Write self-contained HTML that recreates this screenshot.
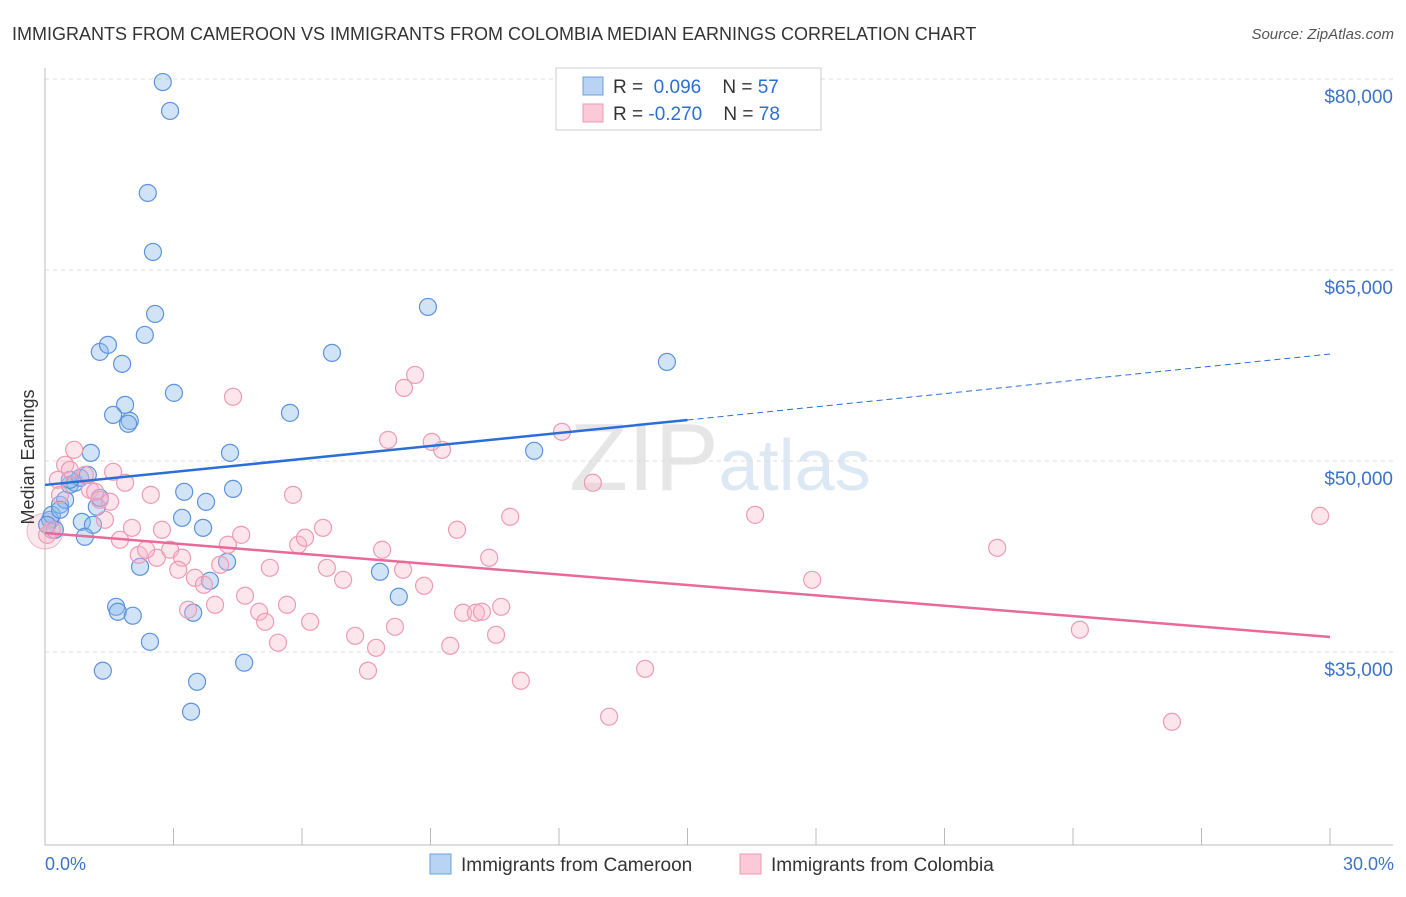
<!DOCTYPE html>
<html><head><meta charset="utf-8">
<style>
body{margin:0;background:#fff;font-family:"Liberation Sans",sans-serif;}
svg text{font-family:"Liberation Sans",sans-serif;}
</style></head>
<body>
<svg id="chart" width="1406" height="892" xmlns="http://www.w3.org/2000/svg">
<text x="12" y="40" font-size="18" fill="#333">IMMIGRANTS FROM CAMEROON VS IMMIGRANTS FROM COLOMBIA MEDIAN EARNINGS CORRELATION CHART</text>
<text x="1394" y="39" font-size="15" fill="#555" text-anchor="end" font-style="italic">Source: ZipAtlas.com</text>
<text x="720" y="490" font-size="96" text-anchor="middle" fill="#e6e6e6" font-family="Liberation Serif">ZIP<tspan fill="#dde8f5" font-family="Liberation Sans" font-size="72">atlas</tspan></text>
<g id="grid"></g>
<g id="axes"></g>
<g id="pts"></g>
<g id="trend"></g>
<text transform="translate(34,457) rotate(-90)" font-size="18" fill="#333" text-anchor="middle">Median Earnings</text>
<text x="45" y="870" font-size="18" fill="#3b73c8">0.0%</text>
<text x="1394" y="870" font-size="18" fill="#3b73c8" text-anchor="end">30.0%</text>
<g>
<rect x="556" y="68" width="265" height="62" fill="#fff" stroke="#ccc"/>
<rect x="583" y="77" width="20" height="18" fill="#b8d3f3" stroke="#6d9ee0"/>
<rect x="583" y="104" width="20" height="18" fill="#fbc9d8" stroke="#ec9ab2"/>
<text x="613" y="93" font-size="19" fill="#333">R = <tspan fill="#2a6fd6">&#160;0.096</tspan>&#160;&#160;&#160;&#160;N = <tspan fill="#2a6fd6">57</tspan></text>
<text x="613" y="120" font-size="19" fill="#333">R = <tspan fill="#2a6fd6">-0.270</tspan>&#160;&#160;&#160;&#160;N = <tspan fill="#2a6fd6">78</tspan></text>
</g>
<g>
<rect x="430" y="854" width="21" height="20" fill="#b8d3f3" stroke="#6d9ee0"/>
<text x="461" y="871" font-size="19" fill="#333">Immigrants from Cameroon</text>
</g>
<g>
<rect x="740" y="854" width="21" height="20" fill="#fbc9d8" stroke="#ec9ab2"/>
<text x="771" y="871" font-size="19" fill="#333">Immigrants from Colombia</text>
</g>
</svg>
<script>
const yTicks=[35000,50000,65000,80000];
const yTickLabels=["$35,000","$50,000","$65,000","$80,000"];
const xTicks=[0,3,6,9,12,15,18,21,24,27,30];
const camX=[2.75,2.92,2.40,2.52,2.57,2.33,1.28,1.47,1.80,3.01,1.87,1.59,1.98,1.94,5.72,8.94,6.70,14.52,11.42,4.32,1.07,4.39,3.25,3.76,1.21,3.20,3.69,0.86,1.12,0.93,2.22,3.85,4.25,7.82,8.26,1.66,1.70,2.05,3.46,2.45,1.35,4.65,3.55,3.41,0.12,0.16,0.35,0.47,0.58,0.70,0.82,1.00,1.28,0.58,0.23,0.35,0.05];
const camY=[79760,77490,71050,66420,61550,59900,58570,59120,57630,55350,54410,53620,53150,52920,53780,62100,58490,57780,50800,50640,50640,47810,47580,46790,46400,45540,44750,45220,44990,44050,41690,40590,42080,41300,39340,38550,38160,37850,38080,35800,33530,34160,32660,30310,45380,45770,46560,46950,48130,48290,48680,48910,47110,48520,44600,46170,44990];
const colX=[0.68,0.47,0.58,0.93,0.30,1.05,1.28,1.52,1.17,1.40,1.75,1.87,2.03,2.47,2.73,2.19,2.61,2.36,2.92,3.20,3.11,3.50,3.71,3.97,3.34,4.09,4.27,4.58,4.39,4.67,5.00,5.14,5.25,5.44,5.65,5.79,5.91,6.07,6.19,6.49,6.58,6.96,7.24,7.54,7.73,7.87,8.01,8.17,8.36,8.38,8.64,8.85,9.03,9.27,9.46,9.62,9.76,10.06,10.20,10.37,10.53,10.65,10.86,11.11,12.07,12.79,13.17,14.01,16.58,17.91,22.23,24.16,26.31,29.77,0.05,0.16,0.35,1.59];
const colY=[50880,49700,49310,48910,48520,47740,46950,46800,47580,45380,43810,48290,44750,47340,44600,42630,42400,43030,43030,42400,41460,40830,40280,38710,38320,41850,43420,44200,55040,39420,38160,37370,41610,35730,38710,47340,43420,43970,37370,44750,41610,40670,36270,33530,35330,43030,51660,36980,41460,55740,56760,40200,51500,50880,35490,44600,38080,38080,38160,42400,36350,38550,45620,32740,52290,48290,29920,33680,45770,40670,43180,36750,29520,45690,44200,44600,47340,49150];
const camTrend=[48120,53220,58400]; // at 0%,15%,30%
const colTrend=[44350,36180]; // at 0%,30%

const NS="http://www.w3.org/2000/svg";
const X=v=>45+v/30*1285;
const Y=v=>79+(80000-v)/15000*191;
function mk(tag,attrs,parent){const e=document.createElementNS(NS,tag);for(const k in attrs)e.setAttribute(k,attrs[k]);parent.appendChild(e);return e;}
const grid=document.getElementById('grid'),axes=document.getElementById('axes'),pts=document.getElementById('pts'),trend=document.getElementById('trend');
yTicks.forEach((t,i)=>{
 const l=mk('line',{x1:45,x2:1393,y1:Y(t),y2:Y(t),stroke:'#ddd','stroke-dasharray':'4,4'},grid);
 
 
 const tx=mk('text',{x:1393,y:Y(t)+24,'font-size':19,fill:'#3b73c8','text-anchor':'end'},grid);
 tx.textContent=yTickLabels[i];
 
 
});
const yl=mk('line',{x1:45,x2:45,y1:68,y2:845,stroke:'#bbb'},axes);


const xl=mk('line',{x1:45,x2:1393,y1:845,y2:845,stroke:'#bbb'},axes);


xTicks.forEach(t=>{
 const l=mk('line',{x1:X(t),x2:X(t),y1:828,y2:845,stroke:'#bbb'},axes);
 
 
});
// large faint circles
const b1=mk('circle',{cx:X(0.0),cy:Y(44500),r:18,fill:'rgba(245,160,185,0.25)',stroke:'rgba(230,120,155,0.5)'},pts);


camX.forEach((x,i)=>{
 const c=mk('circle',{cx:X(x),cy:Y(camY[i]),r:8.5,fill:'rgba(140,185,235,0.4)',stroke:'#5d93dc','stroke-width':1.2},pts);
 
 
});
colX.forEach((x,i)=>{
 const c=mk('circle',{cx:X(x),cy:Y(colY[i]),r:8.5,fill:'rgba(248,180,200,0.35)',stroke:'#ee9bb5','stroke-width':1.2},pts);
 
 
});
const t1=mk('line',{x1:X(0),y1:Y(camTrend[0]),x2:X(15),y2:Y(camTrend[1]),stroke:'#2a6fd6','stroke-width':2.5},trend);


const t2=mk('line',{x1:X(15),y1:Y(camTrend[1]),x2:X(30),y2:Y(camTrend[2]),stroke:'#2a6fd6','stroke-width':1,'stroke-dasharray':'6,4'},trend);


const t3=mk('line',{x1:X(0),y1:Y(colTrend[0]),x2:X(30),y2:Y(colTrend[1]),stroke:'#e8699a','stroke-width':2.5},trend);


</script>
</body></html>
